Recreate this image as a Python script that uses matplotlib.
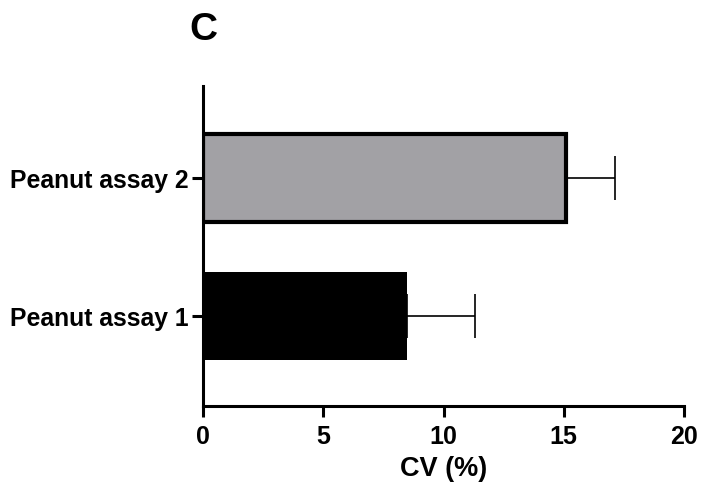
import matplotlib
matplotlib.use("Agg")
import matplotlib.pyplot as plt

categories = ["Peanut assay 1", "Peanut assay 2"]
cv_values = [8.5, 15.1]
cv_errors = [2.8, 2.05]
bar_colors = ["#000000", "#a2a1a5"]
x_ticks = [0, 5, 10, 15, 20]

plt.rcParams['font.family'] = ['Liberation Sans', 'DejaVu Sans']
plt.rcParams['font.weight'] = 'bold'

fig = plt.figure(figsize=(7.02, 4.91), dpi=100)
ax = fig.add_axes([203/702, 1-406/491, (684-203)/702, (406-86)/491])

ypos = list(range(len(categories)))
ax.barh(ypos, cv_values, height=0.64, color=bar_colors,
        edgecolor="black", linewidth=[0, 3], zorder=2)
ax.errorbar(cv_values, ypos, xerr=[[0]*len(cv_errors), cv_errors], fmt="none",
            ecolor="black", elinewidth=1.2, capsize=16, capthick=1.2, zorder=1)

ax.set_xlim(0, 20)
ax.set_ylim(-0.652, 1.667)
ax.set_xticks(x_ticks)
ax.set_xticklabels([str(t) for t in x_ticks], fontsize=18, fontweight='bold')
ax.set_yticks(ypos)
ax.set_yticklabels(categories, fontsize=17.8, fontweight='bold')
ax.set_xlabel("CV (%)", fontsize=19.5, fontweight='bold', labelpad=5)

for s in ["top", "right"]:
    ax.spines[s].set_visible(False)
for s in ["left", "bottom"]:
    ax.spines[s].set_linewidth(2.2)
ax.tick_params(axis='both', width=2.2, length=8, color='black')
ax.tick_params(axis='x', pad=6)
ax.tick_params(axis='y', pad=2)

fig.text(203/702, 1-30/491, "C", fontsize=28, fontweight='bold', ha='center', va='center')

fig.savefig("out.png", dpi=100)
